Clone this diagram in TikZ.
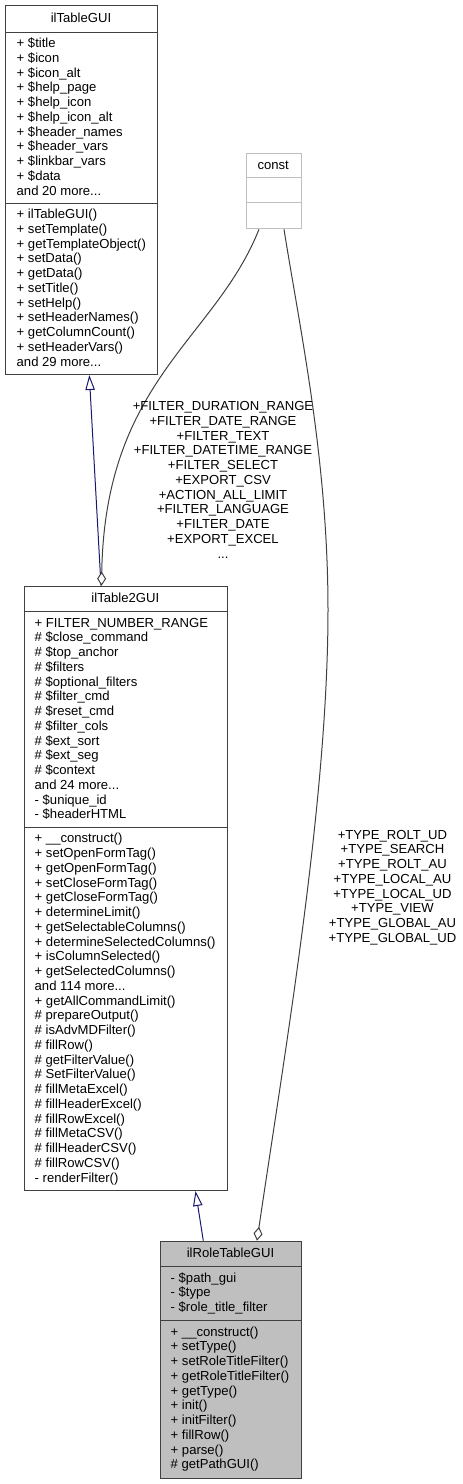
\documentclass[tikz,border=0pt]{standalone}
\usepackage{fontspec}
\setmainfont{Liberation Sans}
\usetikzlibrary{arrows.meta}
\definecolor{edgegray}{HTML}{404040}
\definecolor{navyedge}{HTML}{191970}
\definecolor{nodegray}{HTML}{BFBFBF}
\newcommand{\mydots}{...}
\begin{document}
\begin{tikzpicture}[x=1pt,y=-1pt,
  font=\fontsize{13.1pt}{14.75pt}\selectfont,
  box/.style={draw=edgegray, line width=1pt, rectangle, inner sep=0pt, anchor=north west, fill=white},
  sepline/.style={draw=edgegray, line width=1pt},
  txt/.style={anchor=base west, inner sep=0pt},
  ttl/.style={anchor=base, inner sep=0pt},
  lbl/.style={anchor=base, inner sep=0pt},
  inh/.style={draw=navyedge, line width=1pt, -{Triangle[open, length=15pt, width=9.5pt, fill=white]}},
  agg/.style={draw=edgegray, line width=1pt, -{Diamond[open, length=14pt, width=9pt, fill=white]}},
]
\useasboundingbox (0,0) rectangle (463,1484);

% ---------- ilTableGUI ----------
\node[box, minimum width=152pt, minimum height=369pt] (tg) at (5,5) {};
\draw[sepline] ([yshift=-27pt]tg.north west) -- ([yshift=-27pt]tg.north east);
\draw[sepline] ([yshift=-198pt]tg.north west) -- ([yshift=-198pt]tg.north east);
\node[ttl] (tgt) at (81,22.3) {ilTableGUI};
\foreach \t [count=\i from 0] in {{+ \$title},{+ \$icon},{+ \$icon\_alt},{+ \$help\_page},{+ \$help\_icon},{+ \$help\_icon\_alt},{+ \$header\_names},{+ \$header\_vars},{+ \$linkbar\_vars},{+ \$data},{and 20 more\mydots}}
  \node[txt] (tga\i) at (16.5,47.5+14.75*\i) {\t};
\foreach \t [count=\i from 0] in {{+ ilTableGUI()},{+ setTemplate()},{+ getTemplateObject()},{+ setData()},{+ getData()},{+ setTitle()},{+ setHelp()},{+ setHeaderNames()},{+ getColumnCount()},{+ setHeaderVars()},{and 29 more\mydots}}
  \node[txt] (tgm\i) at (16.5,218.5+14.75*\i) {\t};

% ---------- const ----------
\node[box, draw=nodegray, minimum width=55pt, minimum height=75.6pt] (cst) at (245.7,152.7) {};
\draw[sepline, draw=nodegray] ([yshift=-25pt]cst.north west) -- ([yshift=-25pt]cst.north east);
\draw[sepline, draw=nodegray] ([yshift=-50pt]cst.north west) -- ([yshift=-50pt]cst.north east);
\node[ttl] (cstt) at (273.2,169.3) {const};

% ---------- ilTable2GUI ----------
\node[box, minimum width=202.7pt, minimum height=604.3pt] (t2) at (24,585.7) {};
\draw[sepline] ([yshift=-26pt]t2.north west) -- ([yshift=-26pt]t2.north east);
\draw[sepline] ([yshift=-241.6pt]t2.north west) -- ([yshift=-241.6pt]t2.north east);
\node[ttl] (t2t) at (125.3,602.8) {ilTable2GUI};
\foreach \t [count=\i from 0] in {{+ FILTER\_NUMBER\_RANGE},{\# \$close\_command},{\# \$top\_anchor},{\# \$filters},{\# \$optional\_filters},{\# \$filter\_cmd},{\# \$reset\_cmd},{\# \$filter\_cols},{\# \$ext\_sort},{\# \$ext\_seg},{\# \$context},{and 24 more\mydots},{- \$unique\_id},{- \$headerHTML}}
  \node[txt] (t2a\i) at (34.5,627.2+14.75*\i) {\t};
\foreach \t [count=\i from 0] in {{+ \_\_construct()},{+ setOpenFormTag()},{+ getOpenFormTag()},{+ setCloseFormTag()},{+ getCloseFormTag()},{+ determineLimit()},{+ getSelectableColumns()},{+ determineSelectedColumns()},{+ isColumnSelected()},{+ getSelectedColumns()},{and 114 more\mydots},{+ getAllCommandLimit()},{\# prepareOutput()},{\# isAdvMDFilter()},{\# fillRow()},{\# getFilterValue()},{\# SetFilterValue()},{\# fillMetaExcel()},{\# fillHeaderExcel()},{\# fillRowExcel()},{\# fillMetaCSV()},{\# fillHeaderCSV()},{\# fillRowCSV()},{- renderFilter()}}
  \node[txt] (t2m\i) at (34.5,842.8+14.75*\i) {\t};

% ---------- ilRoleTableGUI ----------
\node[box, fill=nodegray, minimum width=141pt, minimum height=237pt] (role) at (160,1240.7) {};
\draw[sepline] ([yshift=-26pt]role.north west) -- ([yshift=-26pt]role.north east);
\draw[sepline] ([yshift=-80pt]role.north west) -- ([yshift=-80pt]role.north east);
\node[ttl] (rolet) at (230.5,1257.6) {ilRoleTableGUI};
\foreach \t [count=\i from 0] in {{- \$path\_gui},{- \$type},{- \$role\_title\_filter}}
  \node[txt] (rolea\i) at (170.5,1282.2+14.75*\i) {\t};
\foreach \t [count=\i from 0] in {{+ \_\_construct()},{+ setType()},{+ setRoleTitleFilter()},{+ getRoleTitleFilter()},{+ getType()},{+ init()},{+ initFilter()},{+ fillRow()},{+ parse()},{\# getPathGUI()}}
  \node[txt] (rolem\i) at (170.5,1336.2+14.75*\i) {\t};

% ---------- edges ----------
\draw[inh] ([xshift=77pt]t2.north west) -- ([xshift=84.3pt]tg.south west);
\draw[inh] ([xshift=43.3pt]role.north west) -- ([xshift=171.5pt]t2.south west);
\draw[agg] ([xshift=13.3pt]cst.south west) .. controls (215,340) and (105,380) .. ([xshift=77.5pt]t2.north west);
\draw[agg] ([xshift=38.3pt]cst.south west) .. controls (300,330) and (328,460) .. (328,610)
  .. controls (328,800) and (285,1050) .. ([xshift=97pt]role.north west);

% ---------- edge labels ----------
\foreach \t [count=\i from 0] in {{+FILTER\_DURATION\_RANGE},{+FILTER\_DATE\_RANGE},{+FILTER\_TEXT},{+FILTER\_DATETIME\_RANGE},{+FILTER\_SELECT},{+EXPORT\_CSV},{+ACTION\_ALL\_LIMIT},{+FILTER\_LANGUAGE},{+FILTER\_DATE},{+EXPORT\_EXCEL},{\mydots}}
  \node[lbl] (la\i) at (223,410.5+14.75*\i) {\t};
\foreach \t [count=\i from 0] in {{+TYPE\_ROLT\_UD},{+TYPE\_SEARCH},{+TYPE\_ROLT\_AU},{+TYPE\_LOCAL\_AU},{+TYPE\_LOCAL\_UD},{+TYPE\_VIEW},{+TYPE\_GLOBAL\_AU},{+TYPE\_GLOBAL\_UD}}
  \node[lbl] (lb\i) at (392.5,839+14.75*\i) {\t};
\end{tikzpicture}
\end{document}
